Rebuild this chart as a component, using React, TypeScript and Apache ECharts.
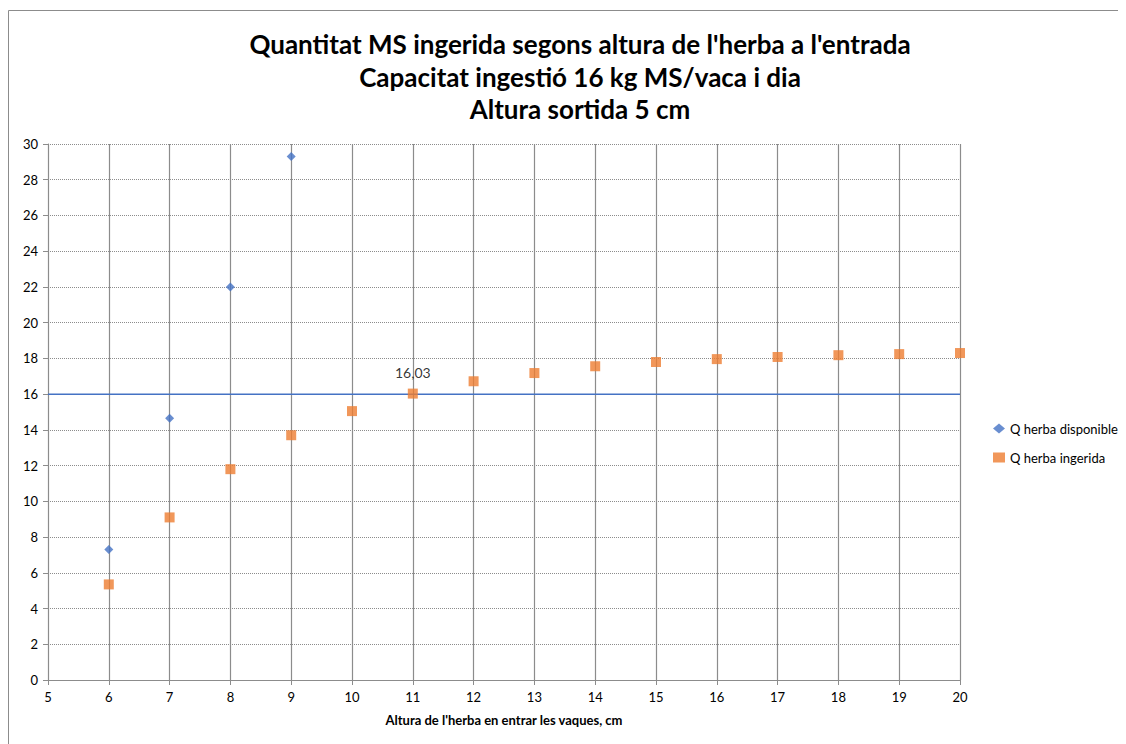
import React, { useEffect, useRef } from "react";
import * as echarts from "echarts";

const titleLines = [
  "Quantitat MS ingerida segons altura de l'herba a l'entrada",
  "Capacitat ingestió 16 kg MS/vaca i dia",
  "Altura sortida 5 cm",
];
const xAxisName = "Altura de l'herba en entrar les vaques, cm";
const seriesNames = ["Q herba disponible", "Q herba ingerida"];

const disponibleX = [6, 7, 8, 9];
const disponibleY = [7.3, 14.65, 22.0, 29.3];

const ingeridaX = [6, 7, 8, 9, 10, 11, 12, 13, 14, 15, 16, 17, 18, 19, 20];
const ingeridaY = [5.35, 9.1, 11.8, 13.7, 15.05, 16.03, 16.72, 17.18, 17.56, 17.8, 17.96, 18.08, 18.18, 18.24, 18.3];

const capacityLineX = [5, 20];
const capacityLineY = [16, 16];

export default function App() {
  const ref = useRef<HTMLDivElement>(null);
  useEffect(() => {
    if (!ref.current) return;
    const chart = echarts.init(ref.current, null, { renderer: "svg" });
    const font = "Lato, 'Open Sans', sans-serif";
    chart.setOption({
      animation: false,
      backgroundColor: "#fff",
      textStyle: { fontFamily: font },
      title: {
        text: titleLines.join("\n"),
        left: 567,
        textAlign: "center",
        top: 15,
        textStyle: { fontSize: 26, fontWeight: "bold", color: "#000", lineHeight: 32.5, fontFamily: font },
      },
      graphic: [
        {
          type: "rect",
          shape: { x: 0.5, y: 2.5, width: 1200, height: 800 },
          style: { fill: "none", stroke: "#8c8c8c", lineWidth: 1 },
          silent: true,
        },
      ],
      grid: { left: 40, right: 166, top: 136, bottom: 64 },
      legend: {
        orient: "vertical",
        left: 980,
        top: 409,
        itemGap: 16,
        itemWidth: 12,
        itemHeight: 10,
        textStyle: { fontSize: 13, color: "#000", fontFamily: font },
        data: [
          { name: seriesNames[0], icon: "diamond" },
          { name: seriesNames[1], icon: "rect" },
        ],
      },
      xAxis: {
        type: "value",
        min: 5,
        max: 20,
        interval: 1,
        name: xAxisName,
        nameLocation: "middle",
        nameGap: 33,
        nameTextStyle: { fontSize: 13, fontWeight: "bold", color: "#000" },
        axisLine: { lineStyle: { color: "#8c8c8c" } },
        axisTick: { show: true, length: 5, lineStyle: { color: "#8c8c8c" } },
        axisLabel: { fontSize: 13, color: "#000", margin: 10 },
        splitLine: { show: true, lineStyle: { color: "#8c8c8c", width: 1.2 } },
      },
      yAxis: {
        type: "value",
        min: 0,
        max: 30,
        interval: 2,
        axisLine: { show: true, lineStyle: { color: "#8c8c8c" } },
        axisTick: { show: true, length: 5, lineStyle: { color: "#8c8c8c" } },
        axisLabel: { fontSize: 13, color: "#000", margin: 10 },
        splitLine: { show: true, lineStyle: { color: "#8c8c8c", type: [1, 1], width: 1 } },
      },
      series: [
        {
          name: seriesNames[0],
          type: "scatter",
          symbol: "diamond",
          symbolSize: 9,
          itemStyle: { color: "#4472C4" },
          data: disponibleX.map((x, i) => [x, disponibleY[i]]),
          z: 3,
        },
        {
          name: "capacitat",
          type: "line",
          symbol: "none",
          lineStyle: { color: "#4472C4", width: 1.5 },
          data: capacityLineX.map((x, i) => [x, capacityLineY[i]]),
          z: 2,
        },
        {
          name: seriesNames[1],
          type: "scatter",
          symbol: "rect",
          symbolSize: 10,
          itemStyle: { color: "#ED7D31" },
          data: ingeridaX.map((x, i) => {
            const d: any = { value: [x, ingeridaY[i]] };
            if (x === 11) {
              d.label = {
                show: true,
                position: "top",
                distance: 9,
                formatter: () => ingeridaY[i].toFixed(2).replace(".", ","),
                fontSize: 14,
                color: "#000",
              };
            }
            return d;
          }),
          z: 4,
        },
      ],
    });
    return () => chart.dispose();
  }, []);
  return <div ref={ref} style={{ width: 1118, height: 736 }} />;
}
